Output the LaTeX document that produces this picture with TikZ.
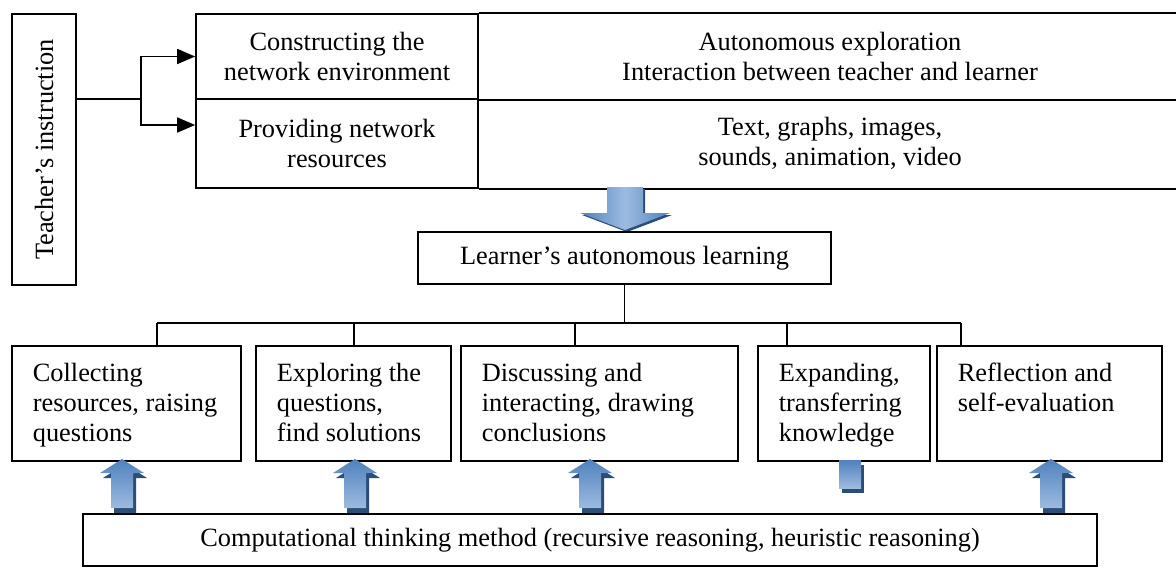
\documentclass[tikz,border=0pt]{standalone}
\usepackage{fontspec}
\setmainfont{Liberation Serif}
\usepackage{graphicx}
\usetikzlibrary{arrows.meta}

\definecolor{arrowblue}{HTML}{4F81BD}
\definecolor{arrowlight}{HTML}{9DBBE0}
\definecolor{arrowdark}{HTML}{2C4D75}

\newcommand{\boxlines}[2]{\parbox[c][1.71cm][t]{#1}{\begin{tabular}[t]{@{}l@{}}#2\end{tabular}}}
\newcommand{\uparrowpath}[1]{(#1-11,508) -- (#1-11,473) -- (#1-22,473) -- (#1,459) -- (#1+22,473) -- (#1+11,473) -- (#1+11,508) -- cycle}

\begin{document}
\begin{tikzpicture}[x=0.02cm, y=-0.02cm, font=\fontsize{15}{17}\selectfont, line width=1pt]
\tikzstyle{frame}=[draw, inner sep=0pt]
\tikzstyle{cell}=[inner sep=0pt, align=center, minimum height=1.7cm]
\tikzstyle{stepbox}=[draw, anchor=north west, inner sep=0pt, minimum height=2.3cm]
\tikzstyle{link}=[-{Triangle[length=0.36cm, width=0.3cm]}]

\useasboundingbox (0,0) rectangle (1176,568);

% teacher and the table
\node[frame, minimum width=1.28cm, minimum height=5.42cm] (teach) at (44,149.5) {\rotatebox{90}{Teacher’s instruction}};
\node[frame, cell, minimum width=5.64cm] (cons) at (337,56.5) {Constructing the\\network environment};
\node[frame, cell, minimum width=5.64cm, minimum height=1.78cm] (prov) at (337,143.5) {Providing network\\resources};
\node[cell] (auto) at (830,56.5) {Autonomous exploration\\Interaction between teacher and learner};
\node[cell] (media) at (830,143.5) {Text, graphs, images,\\sounds, animation, video};
\coordinate (edge) at (1176,0);
\draw (cons.north east) -- (cons.north east -| edge);
\draw (cons.south east) -- (cons.south east -| edge);
\draw (prov.south east) -- (prov.south east -| edge);

\coordinate (fork) at (141,99);
\draw (teach.east |- fork) -- (fork);
\draw[link] (fork) |- (cons.west);
\draw[link] (fork) |- ([yshift=0.37cm]prov.west);

% down arrow
\fill[arrowdark, shift={(2,2)}] (607,187) -- (643,187) -- (643,213) -- (670,213) -- (625,230) -- (580,213) -- (607,213) -- cycle;
\shade[left color=arrowblue, right color=arrowblue, middle color=arrowlight] (607,187) -- (643,187) -- (643,213) -- (670,213) -- (625,230) -- (580,213) -- (607,213) -- cycle;

\node[frame, minimum width=8.26cm, minimum height=1.04cm] (learn) at (624.5,258) {Learner’s autonomous learning};

% steps
\node[stepbox, minimum width=4.58cm] (b1) at (11,345) {\boxlines{3.74cm}{Collecting\\resources, raising\\questions}};
\node[stepbox, minimum width=3.90cm] (b2) at (255,345) {\boxlines{3.06cm}{Exploring the\\questions,\\find solutions}};
\node[stepbox, minimum width=5.54cm] (b3) at (460,345) {\boxlines{4.70cm}{Discussing and\\interacting, drawing\\conclusions}};
\node[stepbox, minimum width=3.44cm] (b4) at (757,345) {\boxlines{2.60cm}{Expanding,\\transferring\\knowledge}};
\node[stepbox, minimum width=4.50cm] (b5) at (936,345) {\boxlines{3.66cm}{Reflection and\\self-evaluation}};

\coordinate (busL) at (157,323);
\coordinate (busR) at (961,323);
\draw (learn.south) -- (learn.south |- busL);
\draw (busL) -- (busR);
\foreach \b/\x in {b1/157, b2/354, b3/575, b4/787, b5/961} {
  \coordinate (top\b) at (\x,323);
  \draw (top\b) -- (top\b |- \b.north);
}

\node[frame, minimum width=20.28cm, minimum height=1.04cm] (cmp) at (590,540) {Computational thinking method (recursive reasoning, heuristic reasoning)};

% up arrows
\foreach \x in {122,355,590,1051} {
  \fill[arrowdark, shift={(3,5)}] \uparrowpath{\x};
  \shade[top color=arrowblue, bottom color=arrowlight] \uparrowpath{\x};
}
\fill[arrowdark] (842,465) rectangle (864,493);
\shade[top color=arrowblue, bottom color=arrowlight] (839,460) rectangle (861,488);
\end{tikzpicture}
\end{document}
